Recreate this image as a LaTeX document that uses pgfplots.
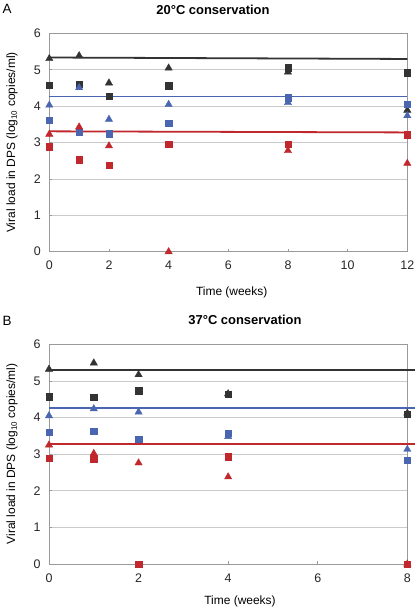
\documentclass[border=0pt]{standalone}
\usepackage{fontspec}
\setmainfont{Liberation Sans}
\usepackage{pgfplots}
\pgfplotsset{compat=1.18}
\definecolor{cblack}{HTML}{333333}
\definecolor{cblue}{HTML}{4A66B0}
\definecolor{cred}{HTML}{C0282D}
\definecolor{gridc}{HTML}{CACACA}
\definecolor{axc}{HTML}{9A9A9A}
\pgfplotsset{
  myax/.style={
    scale only axis, clip=false,
    ymin=0, ymax=6, ytick={0,1,2,3,4,5,6},
    axis line style={axc, line width=0.9pt},
    ymajorgrids, grid style={gridc, line width=0.8pt},
    tick style={axc, line width=0.8pt},
    major tick length=3bp, tick align=inside,
    xtick pos=bottom, ytick pos=left,
    /pgf/number format/assume math mode=true,
    ticklabel style={font=\fontsize{12.5}{14}\selectfont, text=black!85},
    yticklabel style={xshift=-5bp},
    xticklabel style={yshift=-6bp},
  },
  tri/.style={only marks, mark=triangle*, mark size=4.2bp, color=#1, mark options={draw=#1, fill=#1}},
  sq/.style={only marks, mark=square*, mark size=3.2bp, color=#1, mark options={draw=#1, fill=#1}},
  reg/.style={line width=1.8pt, no marks, color=#1, draw=#1},
}
\begin{document}
\begin{tikzpicture}
\useasboundingbox (0,0) rectangle (416bp,-610bp);
% ---------- Panel A ----------
\begin{axis}[myax, at={(49.3bp,-251.7bp)}, anchor=origin,
  width=358bp, height=218.2bp,
  xmin=0, xmax=12, xtick={0,2,4,6,8,10,12}]
\addplot[reg=cblack] coordinates {(0,5.34) (12,5.30)};
\addplot[reg=cblue] coordinates {(0,4.27) (12,4.27)};
\addplot[reg=cred] coordinates {(0,3.31) (12,3.28)};
% black
\addplot[tri=cblack] coordinates {(0,5.31) (1,5.39) (2,4.64) (4,5.05) (8,4.94) (12,3.89)};
\addplot[sq=cblack] coordinates {(0,4.58) (1,4.61) (2,4.28) (4,4.56) (8,5.06) (12,4.92)};
% blue
\addplot[tri=cblue] coordinates {(0,4.03) (1,4.51) (2,3.64) (4,4.05) (8,4.10) (12,3.74)};
\addplot[sq=cblue] coordinates {(0,3.61) (1,3.29) (2,3.25) (4,3.53) (8,4.24) (12,4.05)};
% red
\addplot[tri=cred] coordinates {(0,3.23) (1,3.43) (2,2.91) (4,0) (8,2.78) (12,2.43)};
\addplot[sq=cred] coordinates {(0,2.89) (1,2.53) (2,2.38) (4,2.95) (8,2.96) (12,3.22)};
\end{axis}
% ---------- Panel B ----------
\begin{axis}[myax, at={(49bp,-564bp)}, anchor=origin,
  width=358.3bp, height=219.7bp,
  xmin=0, xmax=8, xtick={0,2,4,6,8}]
\addplot[reg=cblack] coordinates {(0,5.30) (8.17,5.30)};
\addplot[reg=cblue] coordinates {(0,4.26) (8.17,4.26)};
\addplot[reg=cred] coordinates {(0,3.285) (8.17,3.285)};
% black
\addplot[tri=cblack] coordinates {(0,5.32) (1,5.49) (2,5.17) (4,4.65) (8,4.12)};
\addplot[sq=cblack] coordinates {(0,4.57) (1,4.56) (2,4.73) (4,4.64) (8,4.09)};
% blue
\addplot[tri=cblue] coordinates {(0,4.05) (1,4.24) (2,4.15) (4,3.48) (8,3.13)};
\addplot[sq=cblue] coordinates {(0,3.60) (1,3.62) (2,3.41) (4,3.57) (8,2.84)};
% red
\addplot[tri=cred] coordinates {(0,3.25) (1,3.02) (2,2.76) (4,2.38) (8,0)};
\addplot[sq=cred] coordinates {(0,2.89) (1,2.88) (2,0) (4,2.93) (8,0)};
\end{axis}
% ---------- texts ----------
\node[font=\fontsize{13.5}{16}\selectfont] at (7bp,-8.5bp) {A};
\node[font=\fontsize{13.5}{16}\selectfont] at (7bp,-321bp) {B};
\node[font=\bfseries\fontsize{13}{15}\selectfont] at (213bp,-9.5bp) {20°C conservation};
\node[font=\bfseries\fontsize{13}{15}\selectfont] at (245bp,-320bp) {37°C conservation};
\node[font=\fontsize{12}{14}\selectfont] at (231.7bp,-292.7bp) {Time (weeks)};
\node[font=\fontsize{12}{14}\selectfont] at (240bp,-601.7bp) {Time (weeks)};
\node[font=\fontsize{12}{14}\selectfont, rotate=90] at (12bp,-142.6bp) {Viral load in DPS (log\textsubscript{10} copies/ml)};
\node[font=\fontsize{12}{14}\selectfont, rotate=90] at (12bp,-454bp) {Viral load in DPS (log\textsubscript{10} copies/ml)};
\end{tikzpicture}
\end{document}
